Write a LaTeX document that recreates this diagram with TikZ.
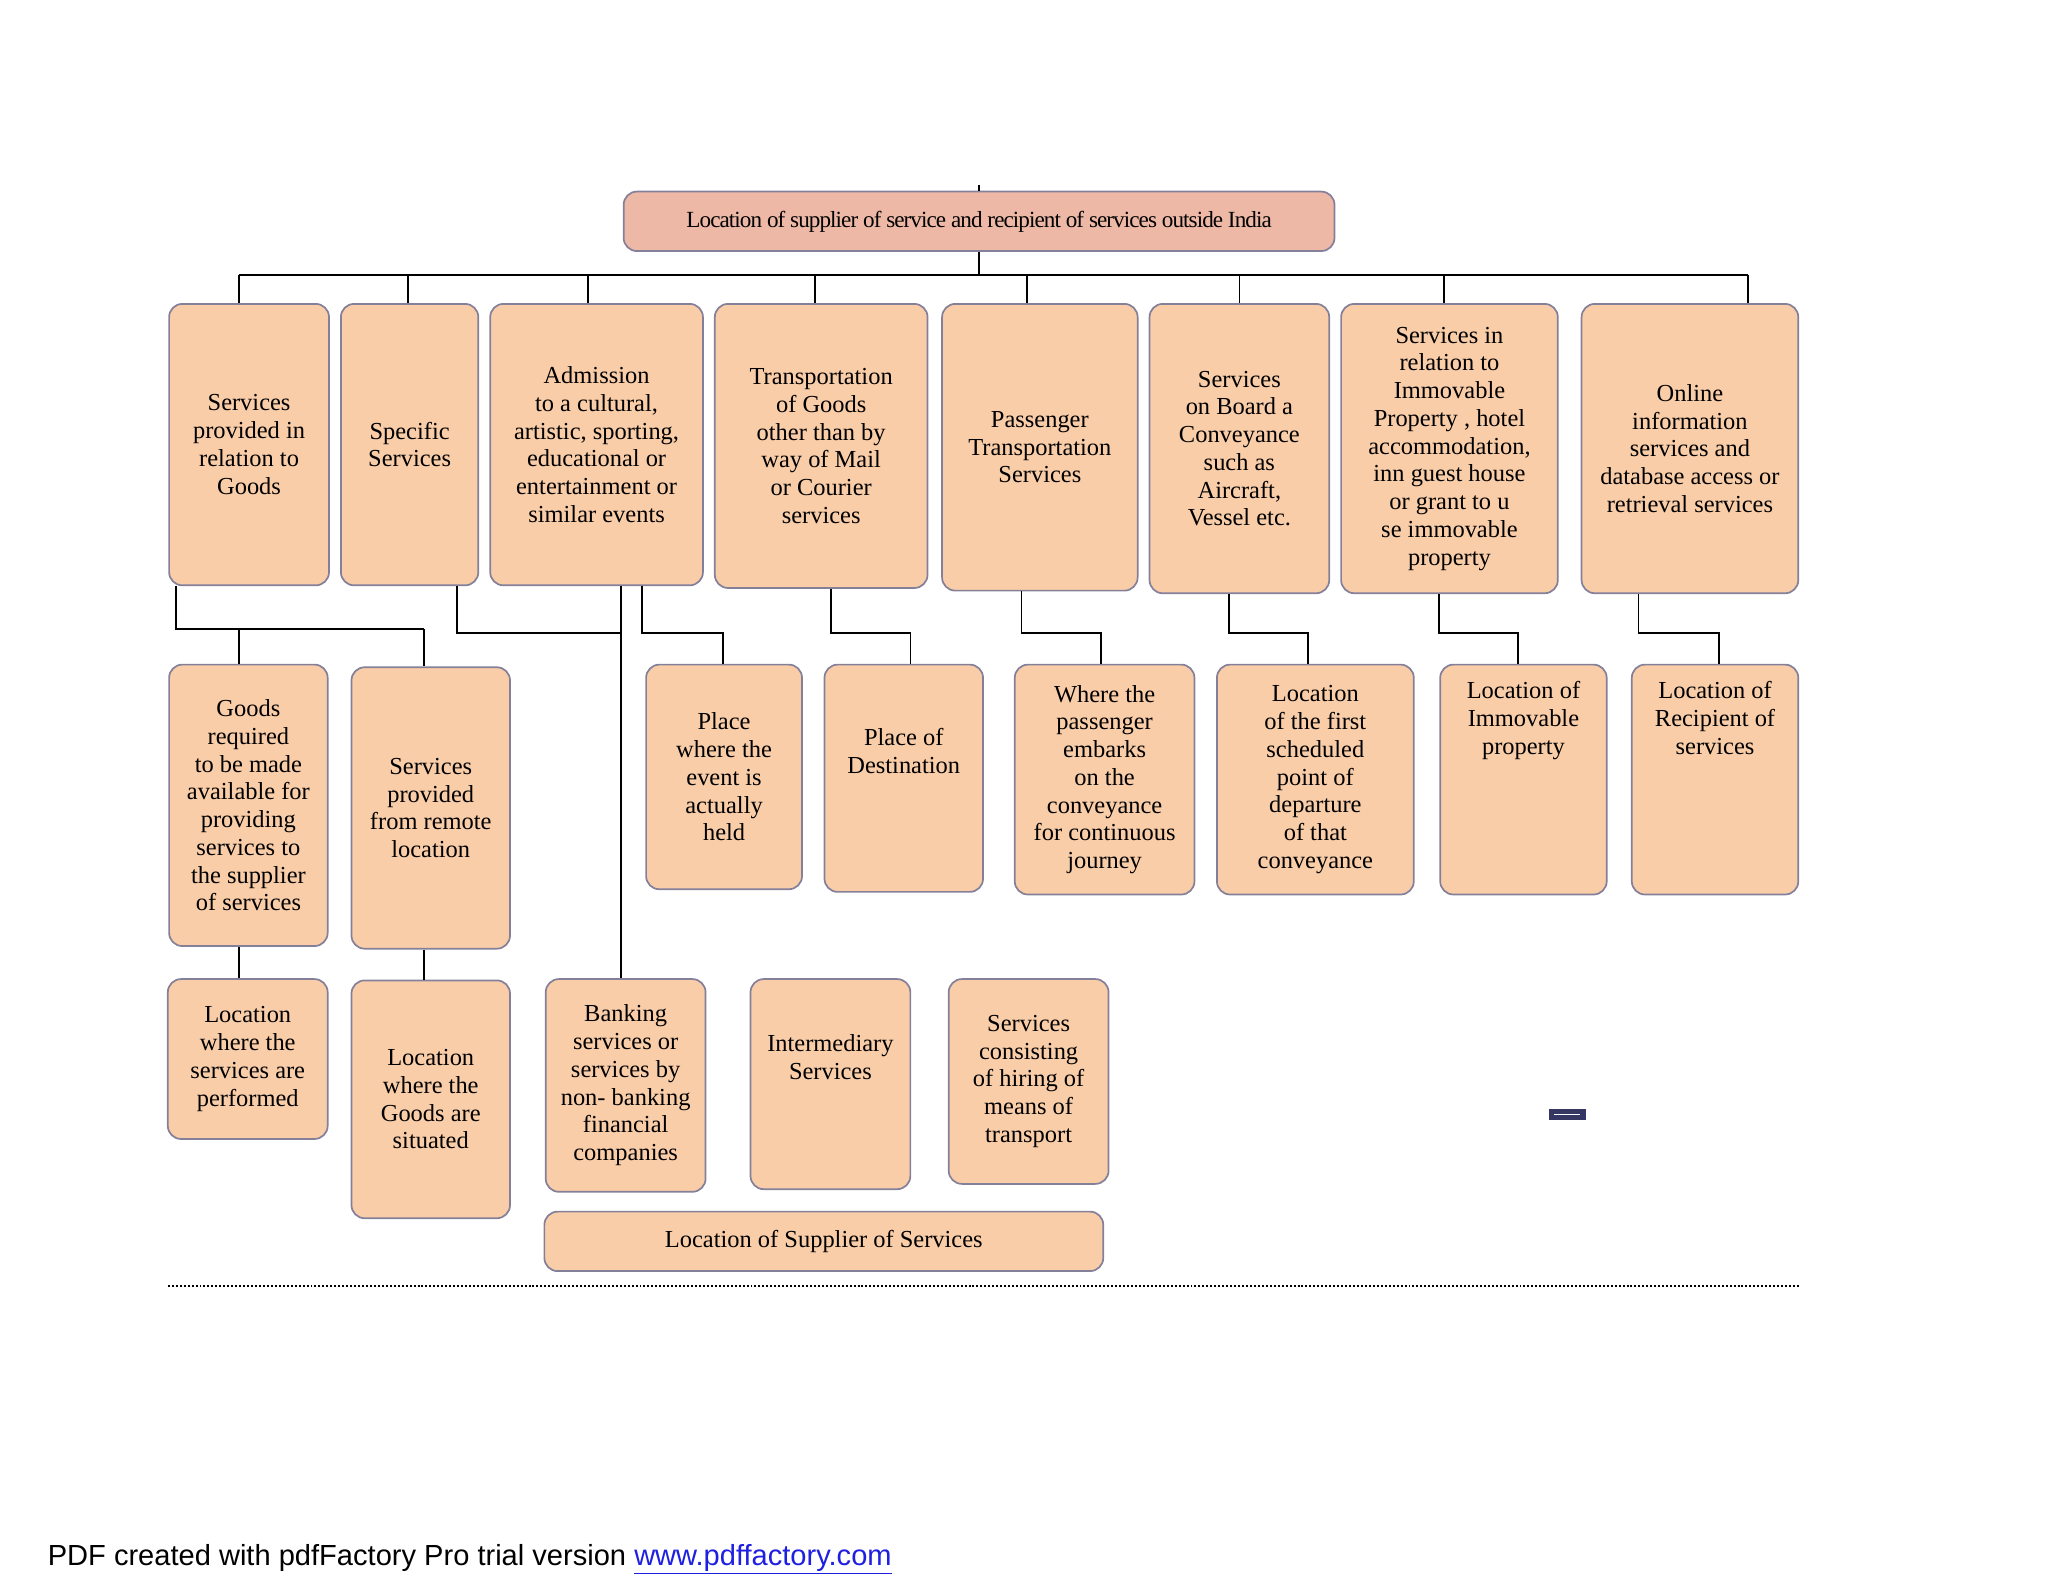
\documentclass[tikz,border=0pt]{standalone}
\usepackage{fontspec}
\setmainfont{Liberation Serif}
\newfontfamily\sansf{Liberation Sans}
\definecolor{peach}{HTML}{F9CDA8}
\definecolor{pinkt}{HTML}{EDB8A6}
\definecolor{bord}{HTML}{85809A}
\definecolor{linkb}{HTML}{1F1FE0}
\begin{document}
\begin{tikzpicture}[x=1pt,y=-1pt,
  box/.style={draw=bord,line width=1.3pt,fill=peach,rounded corners=10pt,align=center,inner sep=2pt,
    font=\fontsize{18.5}{21}\selectfont},
  con/.style={line width=1.3pt,black}]
\useasboundingbox (0,0) rectangle (1550,1197);
\newcommand\bx[6][]{\node[box,minimum width={(#4-#2)*1pt},minimum height={(#5-#3)*1pt},#1] (#6) at ({(#2+#4)/2},{(#3+#5)/2})}
% top
\bx[fill=pinkt,font=\fontsize{17.5}{20}\selectfont\addfontfeature{LetterSpace=-4}]{472}{145}{1010}{190}{top}{Location of supplier of service and recipient of services outside India};
% row 1
\bx{128}{230}{249}{443}{r1}{Services\\provided in\\relation to\\Goods};
\bx{258}{230}{362}{443}{r2}{Specific\\Services};
\bx{371}{230}{532}{443}{r3}{Admission\\to a cultural,\\artistic, sporting,\\educational or\\entertainment or\\similar events};
\bx{541}{230}{702}{445}{r4}{Transportation\\of Goods\\other than by\\way of Mail\\or Courier\\services};
\bx{713}{230}{861}{447}{r5}{Passenger\\Transportation\\Services};
\bx{870}{230}{1006}{449}{r6}{Services\\on Board a\\Conveyance\\such as\\Aircraft,\\Vessel etc.};
\bx{1015}{230}{1179}{449}{r7}{Services in\\relation to\\Immovable\\Property , hotel\\accommodation,\\inn guest house\\or grant to u\\se immovable\\property};
\bx{1197}{230}{1361}{449}{r8}{Online\\information\\services and\\database access or\\retrieval services};
% row 2
\bx{128}{503}{248}{716}{a}{Goods\\required\\to be made\\available for\\providing\\services to\\the supplier\\of services};
\bx{266}{505}{386}{718}{b}{Services\\provided\\from remote\\location};
\bx{489}{503}{607}{673}{c}{Place\\where the\\event is\\actually\\held};
\bx{624}{503}{744}{675}{d}{Place of\\Destination\\[20pt]};
\bx{768}{503}{904}{677}{e}{Where the\\passenger\\embarks\\on the\\conveyance\\for continuous\\journey};
\bx{921}{503}{1070}{677}{f}{Location\\of the first\\scheduled\\point of\\departure\\of that\\conveyance};
\bx{1090}{503}{1216}{677}{g}{};
\node[align=center,anchor=north,font=\fontsize{18.5}{21}\selectfont] (gt) at (g.north) [yshift=-10pt] {Location of\\Immovable\\property};
\bx{1235}{503}{1361}{677}{h}{};
\node[align=center,anchor=north,font=\fontsize{18.5}{21}\selectfont] (ht) at (h.north) [yshift=-10pt] {Location of\\Recipient of\\services};
% row 3
\bx{127}{741}{248}{862}{i}{Location\\where the\\services are\\performed};
\bx{266}{742}{386}{922}{j}{Location\\where the\\Goods are\\situated};
\bx{413}{741}{534}{902}{k}{Banking\\services or\\services by\\non- banking\\financial\\companies};
\bx{568}{741}{689}{900}{l}{Intermediary\\Services\\[20pt]};
\bx{718}{741}{839}{896}{m}{Services\\consisting\\of hiring of\\means of\\transport};
\bx{412}{917}{835}{962}{n}{Location of Supplier of Services};
% connectors
\coordinate (tp) at (741,140);
\draw[con] (tp) -- (top.north);
\draw[con] (top.south) -- (741,208);
\draw[con] (181,208) -- (1323,208);
\foreach \xx/\nn in {181/r1,309/r2,445/r3,617/r4,777/r5,938/r6,1093/r7,1323/r8}
  \draw[con] (\xx,208) -- (\nn.north -| \xx,0);
\draw[con] (r1.south -| 133,0) -- (133,476) -- (321,476);
\draw[con] (181,476) -- (a.north -| 181,0);
\draw[con] (321,476) -- (b.north -| 321,0);
\draw[con] (a.south -| 181,0) -- (i.north -| 181,0);
\draw[con] (b.south -| 321,0) -- (j.north -| 321,0);
\draw[con] (r2.south -| 346,0) |- (470,479);
\draw[con] (r3.south -| 470,0) -- (k.north -| 470,0);
\draw[con] (r3.south -| 486,0) |- (547,479) -- (c.north -| 547,0);
\draw[con] (r4.south -| 629,0) |- (689,479) -- (d.north -| 689,0);
\draw[con] (r5.south -| 773,0) |- (833,479) -- (e.north -| 833,0);
\draw[con] (r6.south -| 930,0) |- (990,479) -- (f.north -| 990,0);
\draw[con] (r7.south -| 1089,0) |- (1149,479) -- (g.north -| 1149,0);
\draw[con] (r8.south -| 1240,0) |- (1301,479) -- (h.north -| 1301,0);
% dotted line
\draw[line width=1.5pt,dash pattern=on 1.5pt off 1.5pt] (127,973) -- (1362,973);
% small icon
\fill[gray!70!blue!60!black] (1172,839) rectangle (1200,848);
\draw[white,line width=1pt] (1176,843.5) -- (1196,843.5);
% footer
\node[anchor=west,font=\sansf\fontsize{22}{26}\selectfont,inner sep=0pt] (foot) at (36,1180) {PDF created with pdfFactory Pro trial version \textcolor{linkb}{\underline{www.pdffactory.com}}};
\end{tikzpicture}
\end{document}
